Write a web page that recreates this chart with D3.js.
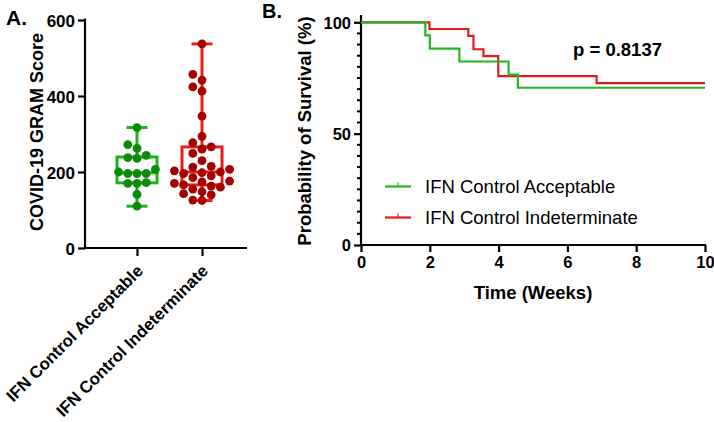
<!DOCTYPE html>
<html><head><meta charset="utf-8">
<script src="https://cdn.jsdelivr.net/npm/d3@7"></script>
<style>body{margin:0;background:#fff}svg{display:block}text{font-family:"Liberation Sans",Arial,sans-serif}</style>
</head><body>
<svg id="c" width="714" height="422"></svg>
<script>
// ---- Panel A data ----
const categories = ["IFN Control Acceptable", "IFN Control Indeterminate"];
const acceptableScores = [110,141,170,170,172,196,196,196,200,207,236,238,244,262,272,317];
const indeterminateScores = [125,126,140,143,148,155,160,163,166,170,174,176,185,190,196,198,200,203,207,213,215,230,249,260,266,277,294,347,413,424,442,457,537];
const scoreTicks = [0,200,400,600];
// ---- Panel B data ----
const acceptableTimes = [0,1.87,2.0,2.86,4.29,4.56,10];
const acceptableSurv  = [100,94.1,88.2,82.4,76.5,70.6,70.6];
const indeterminateTimes = [0,1.99,3.12,3.27,3.56,3.99,6.85,10];
const indeterminateSurv  = [100,97.0,93.9,87.9,84.8,75.8,72.7,72.7];
const timeTicks = [0,2,4,6,8,10];
const survTicks = [0,50,100];
const pLabel = "p = 0.8137";

const boxColors = ["#1db31d", "#ee1b1b"];
const dotColors = ["#0c8a0c", "#a50000"];
const lineColors = ["#22b722", "#e41a1c"];

const svg = d3.select("#c");

// ================= Panel A =================
const yA = d3.scaleLinear().domain([0,600]).range([248,20]);
const xA = d3.scalePoint().domain(categories).range([137,202]);
const gA = svg.append("g");

gA.append("line").attr("x1",85).attr("x2",85).attr("y1",yA(600)-1.5).attr("y2",yA(0)+1).attr("stroke","#000").attr("stroke-width",2.2);
gA.append("line").attr("x1",84).attr("x2",247).attr("y1",yA(0)).attr("y2",yA(0)).attr("stroke","#000").attr("stroke-width",2.2);

const yAxisA = gA.append("g").attr("transform","translate(85,0)")
  .call(d3.axisLeft(yA).tickValues(scoreTicks).tickSize(7).tickPadding(3));
yAxisA.select(".domain").remove();
yAxisA.selectAll(".tick line").attr("stroke-width",2.2);
yAxisA.selectAll(".tick text").attr("font-size",17).attr("font-weight","bold").attr("fill","#000").attr("dy","0.36em");

const xAxisA = gA.append("g").attr("transform",`translate(0,${yA(0)})`)
  .call(d3.axisBottom(xA).tickSize(8).tickFormat(""));
xAxisA.select(".domain").remove();
xAxisA.selectAll(".tick line").attr("stroke-width",2.2);

categories.forEach(c=>{
  gA.append("text").attr("text-anchor","end").attr("font-size",16.8).attr("font-weight","bold")
    .attr("transform",`translate(${xA(c)+7},${yA(0)+24}) rotate(-45)`).text(c);
});

gA.append("text").attr("text-anchor","middle").attr("font-size",18).attr("font-weight","bold")
  .attr("transform","translate(43,132) rotate(-90)").text("COVID-19 GRAM Score");
svg.append("text").attr("x",6).attr("y",25).attr("font-size",21).attr("font-weight","bold").text("A.");

const r = 4.4, step = 9.2;
[acceptableScores, indeterminateScores].forEach((vals,i)=>{
  const cx = xA(categories[i]);
  const s = vals.slice().sort(d3.ascending);
  const q1 = d3.quantile(s,0.25), med = d3.quantile(s,0.5), q3 = d3.quantile(s,0.75);
  const mn = d3.min(s), mx = d3.max(s);
  const g = gA.append("g");
  const bw = 40, cw = 21, sw = 3;
  g.append("line").attr("x1",cx).attr("x2",cx).attr("y1",yA(mx)).attr("y2",yA(q3)).attr("stroke",boxColors[i]).attr("stroke-width",sw);
  g.append("line").attr("x1",cx).attr("x2",cx).attr("y1",yA(q1)).attr("y2",yA(mn)).attr("stroke",boxColors[i]).attr("stroke-width",sw);
  [mn,mx].forEach(v=>g.append("line").attr("x1",cx-cw/2).attr("x2",cx+cw/2).attr("y1",yA(v)).attr("y2",yA(v)).attr("stroke",boxColors[i]).attr("stroke-width",sw));
  g.append("rect").attr("x",cx-bw/2).attr("y",yA(q3)).attr("width",bw).attr("height",yA(q1)-yA(q3))
    .attr("fill","none").attr("stroke",boxColors[i]).attr("stroke-width",sw);
  g.append("line").attr("x1",cx-bw/2).attr("x2",cx+bw/2).attr("y1",yA(med)).attr("y2",yA(med)).attr("stroke",boxColors[i]).attr("stroke-width",sw);
  const placed = [];
  s.forEach(v=>{
    const py = yA(v);
    const order = [0,-1,1,-2,2,-3,3,-4,4];
    for (const k of order){
      const px = cx + k*step;
      if (!placed.some(p=>Math.hypot(p[0]-px,p[1]-py) < 2*r-0.2)) { placed.push([px,py]); break; }
    }
  });
  g.selectAll("circle").data(placed).join("circle").attr("cx",d=>d[0]).attr("cy",d=>d[1]).attr("r",r).attr("fill",dotColors[i]);
});

// ================= Panel B =================
const xB = d3.scaleLinear().domain([0,10]).range([361,705]);
const yB = d3.scaleLinear().domain([0,100]).range([245,22.3]);
const gB = svg.append("g");

gB.append("line").attr("x1",xB(0)).attr("x2",xB(0)).attr("y1",15).attr("y2",yB(0)+1).attr("stroke","#000").attr("stroke-width",2.2);
gB.append("line").attr("x1",xB(0)-1).attr("x2",xB(10)+1).attr("y1",yB(0)).attr("y2",yB(0)).attr("stroke","#000").attr("stroke-width",2.2);

const xAxisB = gB.append("g").attr("transform",`translate(0,${yB(0)})`)
  .call(d3.axisBottom(xB).tickValues(timeTicks).tickSize(7).tickPadding(4));
xAxisB.select(".domain").remove();
xAxisB.selectAll(".tick line").attr("stroke-width",2.2);
xAxisB.selectAll(".tick text").attr("font-size",16.5).attr("font-weight","bold").attr("fill","#000");

const yAxisB = gB.append("g").attr("transform",`translate(${xB(0)},0)`)
  .call(d3.axisLeft(yB).tickValues(survTicks).tickSize(7).tickPadding(3));
yAxisB.select(".domain").remove();
yAxisB.selectAll(".tick line").attr("stroke-width",2.2);
yAxisB.selectAll(".tick text").attr("font-size",16.5).attr("font-weight","bold").attr("fill","#000").attr("dy","0.36em");
const minor = d3.range(5,100,5).filter(v=>v%50!==0);
gB.append("g").selectAll("line").data(minor).join("line")
  .attr("x1",xB(0)-4).attr("x2",xB(0)).attr("y1",d=>yB(d)).attr("y2",d=>yB(d)).attr("stroke","#000").attr("stroke-width",2);

gB.append("text").attr("x",533).attr("y",299).attr("text-anchor","middle").attr("font-size",18.5).attr("font-weight","bold").text("Time (Weeks)");
gB.append("text").attr("text-anchor","middle").attr("font-size",18.5).attr("font-weight","bold")
  .attr("transform","translate(311,131) rotate(-90)").text("Probability of Survival (%)");
svg.append("text").attr("x",262).attr("y",18).attr("font-size",20).attr("font-weight","bold").text("B.");

const line = d3.line().x(d=>xB(d[0])).y(d=>yB(d[1])).curve(d3.curveStepAfter);
const series = [
  {name:categories[0], t:acceptableTimes, s:acceptableSurv, c:lineColors[0]},
  {name:categories[1], t:indeterminateTimes, s:indeterminateSurv, c:lineColors[1]}
];
[series[1], series[0]].forEach(se=>{
  gB.append("path").attr("d", line(d3.zip(se.t, se.s))).attr("fill","none").attr("stroke",se.c).attr("stroke-width",2.2);
});

gB.append("text").attr("x",573).attr("y",56).attr("font-size",18.5).attr("font-weight","bold").text(pLabel);

series.forEach((se,i)=>{
  const ly = 186.5 + i*31;
  gB.append("line").attr("x1",385).attr("x2",411).attr("y1",ly).attr("y2",ly).attr("stroke",se.c).attr("stroke-width",2.2);
  gB.append("line").attr("x1",398).attr("x2",398).attr("y1",ly-4).attr("y2",ly).attr("stroke",se.c).attr("stroke-width",1.2);
  gB.append("text").attr("x",425).attr("y",ly+6.8).attr("font-size",18.5).attr("fill","#000").text(se.name);
});
</script>
</body></html>
